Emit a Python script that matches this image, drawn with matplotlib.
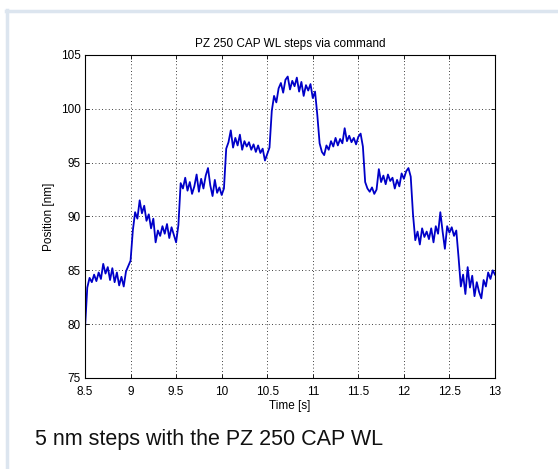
import numpy as np
import matplotlib

matplotlib.use("Agg")
import matplotlib.pyplot as plt
from matplotlib.lines import Line2D

# position readings (nm), sampled every 0.025 s from 8.5 s to 13 s
position_nm = [
    79.6, 83.4, 84.3, 83.9, 84.6, 84.0, 84.8, 84.2, 85.6, 84.7,
    85.3, 84.1, 85.2, 83.9, 84.8, 83.6, 84.4, 83.5, 84.9, 85.4,
    85.9, 88.7, 90.4, 89.8, 91.5, 90.3, 91.0, 89.6, 90.2, 88.9,
    89.8, 87.6, 88.7, 88.2, 89.1, 88.4, 89.3, 88.0, 89.0, 88.3,
    87.6, 89.2, 93.1, 92.6, 93.6, 92.4, 93.2, 92.1, 92.8, 93.9,
    92.3, 93.5, 92.6, 93.8, 94.5, 92.9, 91.9, 93.4, 92.2, 92.7,
    92.0, 92.6, 96.3, 96.9, 98.0, 96.4, 97.3, 96.6, 97.6, 96.2,
    97.0, 96.5, 96.9, 96.2, 96.7, 96.0, 96.6, 95.9, 96.3, 95.2,
    95.8, 96.4, 99.8, 101.2, 100.6, 101.9, 102.4, 101.5, 102.7, 103.0,
    101.8, 102.6, 102.1, 102.9, 101.6, 102.5, 101.2, 102.2, 101.7, 102.3,
    101.0, 101.6, 99.4, 96.8, 96.0, 95.7, 96.6, 96.2, 97.0, 96.5,
    97.3, 96.6, 97.2, 96.8, 98.2, 97.0, 97.5, 96.9, 97.3, 96.7,
    97.4, 97.7, 96.5, 93.2, 92.6, 92.3, 92.7, 92.1, 92.5, 94.4,
    93.2, 93.8, 93.0, 93.9, 93.3, 93.6, 92.6, 93.4, 92.8, 94.0,
    93.5, 94.2, 94.5, 93.7, 90.2, 87.8, 88.6, 87.4, 88.9, 88.1,
    88.6, 87.9, 88.9, 87.6, 89.1, 88.4, 90.4, 88.6, 87.0, 89.1,
    88.5, 89.0, 88.2, 88.7, 86.2, 83.5, 84.6, 82.8, 85.3, 83.4,
    84.5, 82.6, 83.9, 83.0, 82.4, 84.1, 83.5, 84.8, 84.2, 85.0,
    84.6,
]
t_start, t_end = 8.5, 13.0
x_ticks = [8.5, 9, 9.5, 10, 10.5, 11, 11.5, 12, 12.5, 13]
x_tick_labels = ["8.5", "9", "9.5", "10", "10.5", "11", "11.5", "12", "12.5", "13"]
y_ticks = [75, 80, 85, 90, 95, 100, 105]

plt.rcParams["font.family"] = ["Liberation Sans", "DejaVu Sans"]

fig = plt.figure(figsize=(5.58, 4.69), dpi=100)
fig.patch.set_facecolor("white")

# light frame around the figure panel
frame_color = "#dce5ef"
fig.add_artist(Line2D([7 / 558, 7 / 558], [0, 1 - 10 / 469], color=frame_color, lw=2.5,
                      transform=fig.transFigure))
fig.add_artist(Line2D([6 / 558, 1], [1 - 11 / 469, 1 - 11 / 469], color=frame_color, lw=2.5,
                      transform=fig.transFigure))

ax = fig.add_axes([85 / 558, 1 - 378 / 469, 410 / 558, 323 / 469])

t = np.linspace(t_start, t_end, len(position_nm))
ax.plot(t, position_nm, color="#0000c8", linewidth=1.3)

ax.set_xlim(t_start, t_end)
ax.set_ylim(75, 105)
ax.set_xticks(x_ticks)
ax.set_xticklabels(x_tick_labels)
ax.set_yticks(y_ticks)
ax.tick_params(direction="in", top=True, right=True, length=3, width=0.6,
               labelsize=8.5)
ax.tick_params(axis="x", pad=6)
ax.tick_params(axis="y", pad=3)
ax.grid(True, linestyle=(0, (1, 3)), color="black", linewidth=0.6)
for s in ax.spines.values():
    s.set_linewidth(0.8)

ax.set_title("PZ 250 CAP WL steps via command", fontsize=8.5, pad=6)
ax.set_xlabel("Time [s]", fontsize=8.5, labelpad=1)
ax.set_ylabel("Position [nm]", fontsize=8.5, labelpad=4)

fig.text(35 / 558, 1 - 445 / 469, "5 nm steps with the PZ 250 CAP WL",
         fontsize=15.5, va="baseline", ha="left", color="#111111")

fig.savefig("out.png", dpi=100)
